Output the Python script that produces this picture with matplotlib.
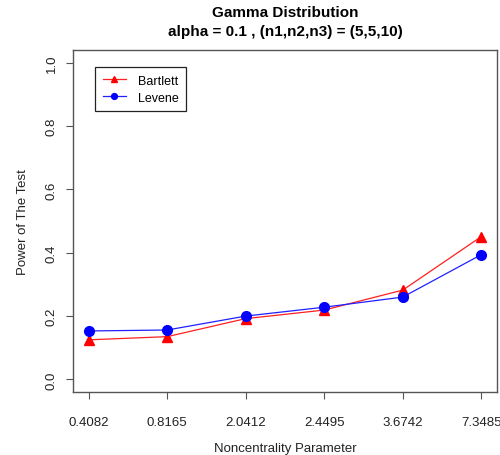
import matplotlib
matplotlib.use("Agg")
import matplotlib.pyplot as plt
import numpy as np

plt.rcParams['font.family'] = ['Liberation Sans', 'DejaVu Sans']

categories = ["0.4082", "0.8165", "2.0412", "2.4495", "3.6742", "7.3485"]
bartlett = [0.125, 0.135, 0.192, 0.219, 0.282, 0.451]
levene = [0.153, 0.156, 0.200, 0.228, 0.260, 0.394]
yticks = [0.0, 0.2, 0.4, 0.6, 0.8, 1.0]

fig = plt.figure(figsize=(5.0, 4.56), dpi=100)
ax = fig.add_axes([0.146, 0.138, 0.848, 0.750])
x = np.arange(1, len(categories) + 1)

ax.plot(x, bartlett, color='#ff2020', lw=0.9, marker='^', ms=7.5,
        mfc='red', mec='red', label='Bartlett')
ax.plot(x, levene, color='#2020ff', lw=0.9, marker='o', ms=7,
        mfc='blue', mec='blue', label='Levene')

ax.set_xlim(0.8, 6.2)
ax.set_ylim(-0.04, 1.04)
ax.set_xticks(x)
ax.set_xticklabels(categories, fontsize=9.5, color='#222222')
ax.set_yticks(yticks)
ax.set_yticklabels([f"{v:.1f}" for v in yticks], fontsize=9.5, rotation=90,
                   va='center', color='#222222')
ax.tick_params(axis='x', length=5, pad=12, color='#555555')
ax.tick_params(axis='y', length=5, pad=6, color='#555555')
for s in ax.spines.values():
    s.set_color('#555555')
    s.set_linewidth(1.0)

ax.set_xlabel("Noncentrality Parameter", fontsize=9.5, color='#222222', labelpad=10)
ax.set_ylabel("Power of The Test", fontsize=9.5, color='#222222', labelpad=12)
ax.set_title("Gamma Distribution\nalpha = 0.1 , (n1,n2,n3) = (5,5,10)",
             fontsize=11, fontweight='bold', pad=11, linespacing=1.45)

leg = ax.legend(loc='upper left', bbox_to_anchor=(0.052, 0.95), fontsize=9,
                fancybox=False, edgecolor='#222222', framealpha=1,
                handlelength=1.9, markerscale=0.6, borderpad=0.6,
                labelspacing=0.4, handletextpad=0.9, borderaxespad=0)
leg.get_frame().set_linewidth(0.9)

fig.savefig("out.png", dpi=100)
